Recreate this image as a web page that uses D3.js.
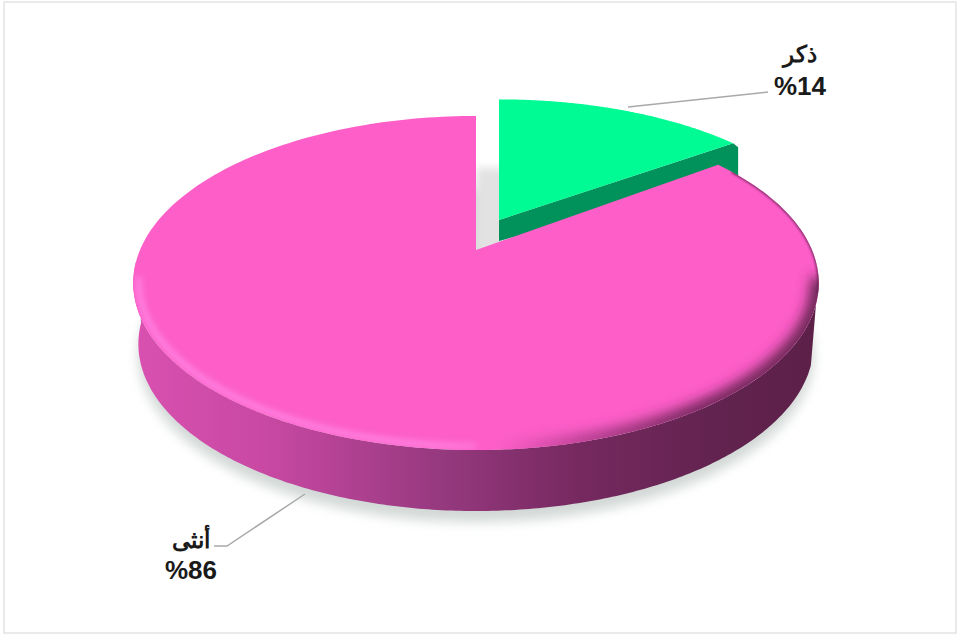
<!DOCTYPE html>
<html>
<head>
<meta charset="utf-8">
<script src="https://cdn.jsdelivr.net/npm/d3@7"></script>
<style>
  html, body { margin: 0; padding: 0; background: #fff; }
  svg { display: block; }
  text { font-family: "Liberation Sans", Arial, sans-serif; font-weight: bold; fill: #1a1a1a; text-anchor: middle; }
</style>
</head>
<body>
<svg id="chart" width="960" height="637"></svg>
<script>
const categories = ["ذكر", "أنثى"];
const shares = [14, 86];
const shareLabels = ["%14", "%86"];

const svg = d3.select("#chart");
const defs = svg.append("defs");

// Perspective view of the pie disc: the centre sits above the middle of the rim ellipse.
const view = { cx: 476, cy: 250, rx: 336, ry: 160.5, p: 0.1976, warp: 0.073 };
function project(angle, r = 1, o = {}) {
  const { dx = 0, dy = 0, sx = 1, sy = 1 } = o;
  const a = angle + view.warp * Math.sin(angle);
  const u = r * Math.sin(a), v = -r * Math.cos(a);
  const w = 1 - view.p * v;
  return [view.cx + dx + sx * view.rx * u / w, view.cy + dy + sy * view.ry * v / w];
}
const line = d3.line().curve(d3.curveLinear);
const steps = (a0, a1, n = 240) => d3.range(n + 1).map(i => a0 + (a1 - a0) * i / n);
function sectorPoints(a0, a1, o) {
  return [project(0, 0, o), ...steps(a0, a1).map(a => project(a, 1, o))];
}

const arcs = d3.pie().sort(null).value(d => d)(shares);
const male = arcs[0], female = arcs[1];
const maleOffset = { dx: 23, dy: -30, sx: 0.967, sy: 0.9 };
const baseRim = { dx: 0, dy: 61, sx: 0.985, sy: 1 };

// Blur filters used by the shadows and the bevel
function blurFilter(id, deviation) {
  defs.append("filter").attr("id", id)
    .attr("x", "-30%").attr("y", "-30%").attr("width", "160%").attr("height", "160%")
    .append("feGaussianBlur").attr("stdDeviation", deviation);
}
blurFilter("soft", 6);
blurFilter("gapSoft", 4);
blurFilter("glow", 3);
blurFilter("shade", 6.5);
blurFilter("edge", 0.8);
blurFilter("frameSoft", 0.7);

const wallGrad = defs.append("linearGradient").attr("id", "wall")
  .attr("gradientUnits", "userSpaceOnUse").attr("x1", 133).attr("x2", 819).attr("y1", 0).attr("y2", 0);
[[0, "#d951b0"], [0.2, "#c748a2"], [0.45, "#96397f"], [0.65, "#76295f"], [0.85, "#622350"], [1, "#5c2048"]]
  .forEach(([o, c]) => wallGrad.append("stop").attr("offset", o).attr("stop-color", c));

const shadeGrad = defs.append("linearGradient").attr("id", "shadeTint")
  .attr("gradientUnits", "userSpaceOnUse").attr("x1", 500).attr("x2", 819).attr("y1", 0).attr("y2", 0);
[[0, "#fd5ec8"], [0.25, "#b53f90"], [0.6, "#6a2455"], [1, "#5c2048"]]
  .forEach(([o, c]) => shadeGrad.append("stop").attr("offset", o).attr("stop-color", c));

const glowGrad = defs.append("linearGradient").attr("id", "glowTint")
  .attr("gradientUnits", "userSpaceOnUse").attr("x1", 133).attr("x2", 560).attr("y1", 0).attr("y2", 0);
[[0, "#ff8ae6"], [0.7, "#ff8ae6"], [1, "#fd5ec8"]]
  .forEach(([o, c]) => glowGrad.append("stop").attr("offset", o).attr("stop-color", c));

// Chart frame
svg.append("rect").attr("x", 4).attr("y", 2).attr("width", 952).attr("height", 631)
  .attr("fill", "#fff").attr("stroke", "#e3e3e3").attr("stroke-width", 1.5).attr("filter", "url(#frameSoft)");

// Soft ground shadow below the disc
const shadowOffset = { dx: 0, dy: 72, sx: 0.985, sy: 1 };
svg.append("path").attr("d", line(steps(0, 2 * Math.PI).map(a => project(a, 1, shadowOffset))) + "Z")
  .attr("fill", "#d2d8d5").attr("filter", "url(#soft)");

// Shadow showing in the gap behind the detached slice
svg.append("path").attr("d", line(sectorPoints(male.startAngle, male.endAngle, { dx: 0, dy: 14, sx: 0.97, sy: 0.72 })) + "Z")
  .attr("fill", "#e2e2e2").attr("filter", "url(#gapSoft)");

// Detached slice: cut face, then top
const maleTop = sectorPoints(male.startAngle, male.endAngle, maleOffset);
const apexM = project(0, 0, maleOffset), cornerM = project(male.endAngle, 1, maleOffset);
svg.append("path").attr("d", line([apexM, cornerM, [cornerM[0] + 5, cornerM[1] + 4], [cornerM[0] + 5, cornerM[1] + 34], [apexM[0], apexM[1] + 21]]) + "Z")
  .attr("fill", "#00925a");
svg.append("path").attr("d", line(maleTop) + "Z").attr("fill", "#00fb94");

// Main slice: outer wall between the top rim and the base rim
const wallAngles = steps(Math.PI * 0.58, Math.PI * 1.5);
const wall = [...wallAngles.map(a => project(a, 1)), ...wallAngles.slice().reverse().map(a => project(a, 1, baseRim))];
svg.append("path").attr("d", line(wall) + "Z").attr("fill", "url(#wall)");

// Main slice: top face
const femaleTop = sectorPoints(female.startAngle, female.endAngle);
svg.append("path").attr("d", line(femaleTop) + "Z").attr("fill", "#fd5ec8");

// Bevel along the near rim, kept inside the top face
defs.append("clipPath").attr("id", "topClip").append("path").attr("d", line(femaleTop) + "Z");
const bevelGroup = svg.append("g").attr("clip-path", "url(#topClip)");
// thin dark line on the upper right of the rim
bevelGroup.append("path")
  .attr("d", line(steps(Math.PI * 0.3, Math.PI * 0.56).map(a => project(a, 1))))
  .attr("fill", "none").attr("stroke", "#7a2a62").attr("stroke-width", 2.5).attr("filter", "url(#edge)");
// wide shaded band on the lower right
bevelGroup.append("path")
  .attr("d", line(steps(Math.PI * 0.53, Math.PI * 0.98).map(a => project(a, 1))))
  .attr("fill", "none").attr("stroke", "url(#shadeTint)").attr("stroke-width", 16).attr("filter", "url(#shade)");
// bright band on the lower left, set a little inside the edge
bevelGroup.append("path")
  .attr("d", line(steps(Math.PI * 1.0, Math.PI * 1.47).map(a => project(a, 0.985))))
  .attr("fill", "none").attr("stroke", "url(#glowTint)").attr("stroke-width", 5).attr("filter", "url(#glow)");

// Leader lines
const leaderMale = [[628, 107], [768, 92]];
const leaderFemale = [[305, 494], [227, 546], [214, 546]];
[leaderMale, leaderFemale].forEach(pts => svg.append("path").attr("d", line(pts))
  .attr("fill", "none").attr("stroke", "#a9a9a9").attr("stroke-width", 1.5));

// Category and share labels
const labelAnchors = [[800, 62, 95], [191, 548, 579]];
categories.forEach((name, i) => {
  const [x, y1, y2] = labelAnchors[i];
  svg.append("text").attr("x", x).attr("y", y1).attr("font-size", 23).attr("direction", "rtl").text(name);
  svg.append("text").attr("x", x).attr("y", y2).attr("font-size", 26).text(shareLabels[i]);
});
</script>
</body>
</html>
